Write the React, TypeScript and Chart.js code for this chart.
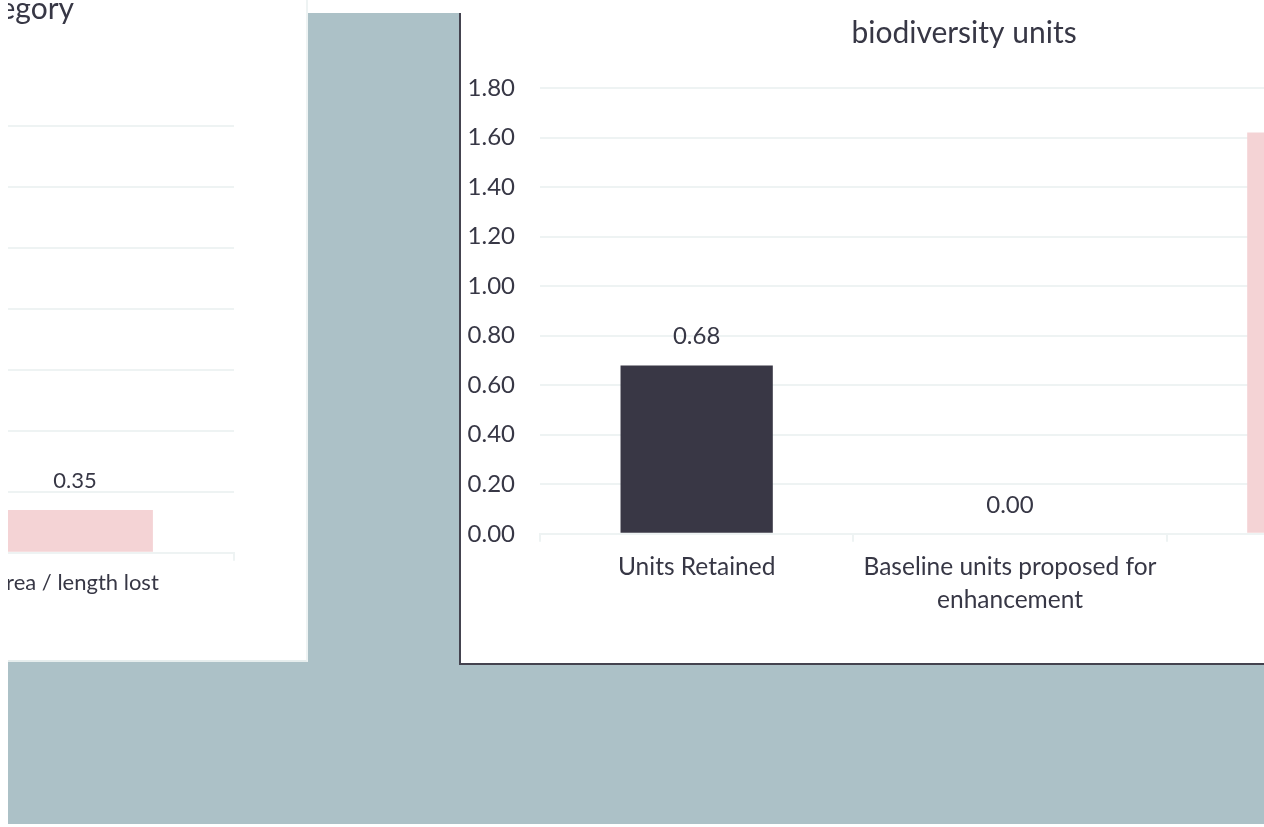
import React, { useEffect, useRef } from "react";
import { Chart, registerables } from "chart.js";

Chart.register(...registerables);

// ---------- data ----------
const leftTitle = "Area / length by habitat category";
const leftCategories = ["Area / length lost"];
const leftValues = [0.35];
const leftColors = ["#f4d3d5"];
const leftAxisMax = 3.5;
const leftAxisStep = 0.5;

const rightTitle = "biodiversity units";
const rightCategories = ["Units Retained", ["Baseline units proposed for", "enhancement"], "Units Lost"];
const rightValues = [0.68, 0.0, 1.62];
const rightColors = ["#393745", "#8fa9ae", "#f4d3d5"];
const rightAxisMax = 1.8;
const rightAxisStep = 0.2;

// ---------- style ----------
const TEXT = "#373745";
const GRID = "#eef3f3";
const FONT = "Lato";

function valueLabels(fontSize: number, offset: number) {
  return {
    id: "valueLabels",
    afterDatasetsDraw(chart: any) {
      const ctx = chart.ctx;
      ctx.save();
      ctx.font = `${fontSize}px ${FONT}`;
      ctx.fillStyle = TEXT;
      ctx.textAlign = "center";
      ctx.textBaseline = "middle";
      chart.data.datasets.forEach((ds: any, i: number) => {
        chart.getDatasetMeta(i).data.forEach((el: any, j: number) => {
          const v = Number(ds.data[j]);
          ctx.fillText(v.toFixed(2), el.x, el.y - offset);
        });
      });
      ctx.restore();
    },
  };
}

function makeConfig(opts: {
  title: string;
  labels: any[];
  values: number[];
  colors: string[];
  max: number;
  step: number;
  barPct: number;
  titleSize: number;
  titlePad: { top: number; bottom: number };
  tickSize: number;
  labelSize: number;
  yAxisWidth: number;
  padding: any;
  xPad: number;
  valueFont: number;
  valueOffset: number;
}) {
  return {
    type: "bar" as const,
    data: {
      labels: opts.labels,
      datasets: [
        {
          data: opts.values,
          backgroundColor: opts.colors,
          borderWidth: 0,
          categoryPercentage: 1,
          barPercentage: opts.barPct,
        },
      ],
    },
    options: {
      animation: false as const,
      responsive: false,
      maintainAspectRatio: false,
      layout: { padding: opts.padding },
      plugins: {
        legend: { display: false },
        tooltip: { enabled: false },
        title: {
          display: true,
          text: opts.title,
          color: TEXT,
          font: { family: FONT, size: opts.titleSize, weight: "normal" as const, lineHeight: 1.2 },
          padding: opts.titlePad,
        },
      },
      scales: {
        x: {
          grid: {
            display: true,
            drawOnChartArea: false,
            drawTicks: true,
            tickLength: 8,
            color: GRID,
            lineWidth: 2,
          },
          border: { display: true, color: GRID, width: 2 },
          ticks: {
            color: TEXT,
            font: { family: FONT, size: opts.labelSize, lineHeight: 1.33 },
            padding: opts.xPad,
            maxRotation: 0,
            minRotation: 0,
            autoSkip: false,
          },
        },
        y: {
          min: 0,
          max: opts.max,
          ticks: {
            stepSize: opts.step,
            color: TEXT,
            font: { family: FONT, size: opts.tickSize },
            padding: 25,
            callback: (v: any) => Number(v).toFixed(2),
          },
          grid: { color: GRID, lineWidth: 2, drawTicks: false },
          border: { display: false },
          afterFit: (s: any) => {
            s.width = opts.yAxisWidth;
          },
        },
      },
    },
    plugins: [valueLabels(opts.valueFont, opts.valueOffset)],
  };
}

function BarCanvas(props: { config: any; width: number; height: number; left: number; top: number }) {
  const ref = useRef<HTMLCanvasElement | null>(null);
  useEffect(() => {
    if (!ref.current) return;
    const chart = new Chart(ref.current, props.config);
    return () => chart.destroy();
  }, []);
  return (
    <canvas
      ref={ref}
      width={props.width}
      height={props.height}
      style={{
        position: "absolute",
        left: props.left,
        top: props.top,
        width: props.width,
        height: props.height,
      }}
    />
  );
}

export default function App() {
  Chart.defaults.font.family = FONT;

  const leftConfig = makeConfig({
    title: leftTitle,
    labels: leftCategories,
    values: leftValues,
    colors: leftColors,
    max: leftAxisMax,
    step: leftAxisStep,
    barPct: 0.49,
    titleSize: 30,
    titlePad: { top: 10, bottom: 99 },
    tickSize: 22,
    labelSize: 22,
    yAxisWidth: 436,
    padding: { left: 0, right: 66, top: 0, bottom: 58 },
    xPad: 8,
    valueFont: 22,
    valueOffset: 29,
  });

  const rightConfig = makeConfig({
    title: rightTitle,
    labels: rightCategories,
    values: rightValues,
    colors: rightColors,
    max: rightAxisMax,
    step: rightAxisStep,
    barPct: 0.486,
    titleSize: 30,
    titlePad: { top: 15, bottom: 37 },
    tickSize: 24,
    labelSize: 24.5,
    yAxisWidth: 92,
    padding: { left: 0, right: 0, top: 0, bottom: 26 },
    xPad: 9,
    valueFont: 24,
    valueOffset: 29,
  });

  return (
    <div
      style={{
        position: "fixed",
        left: 0,
        top: 0,
        width: 1264,
        height: 827,
        overflow: "hidden",
        background: "#ffffff",
      }}
    >
      {/* grey page background */}
      <div
        style={{
          position: "absolute",
          left: 8,
          top: 13,
          width: 1256,
          height: 811,
          background: "#acc1c7",
        }}
      />
      {/* left panel */}
      <div
        style={{
          position: "absolute",
          left: 8,
          top: 0,
          width: 300,
          height: 662,
          boxSizing: "border-box",
          background: "#ffffff",
          borderBottom: "2px solid #e6eded",
          borderRight: "2px solid #eef3f3",
          overflow: "hidden",
        }}
      >
        <BarCanvas config={leftConfig} width={820} height={683} left={-528} top={-19} />
      </div>
      {/* right panel */}
      <div
        style={{
          position: "absolute",
          left: 459,
          top: 13,
          width: 900,
          height: 652,
          boxSizing: "border-box",
          background: "#ffffff",
          borderLeft: "2px solid #44434f",
          borderBottom: "2px solid #44434f",
          overflow: "hidden",
        }}
      >
        <BarCanvas config={rightConfig} width={1032} height={651} left={-13} top={-13} />
      </div>
    </div>
  );
}
